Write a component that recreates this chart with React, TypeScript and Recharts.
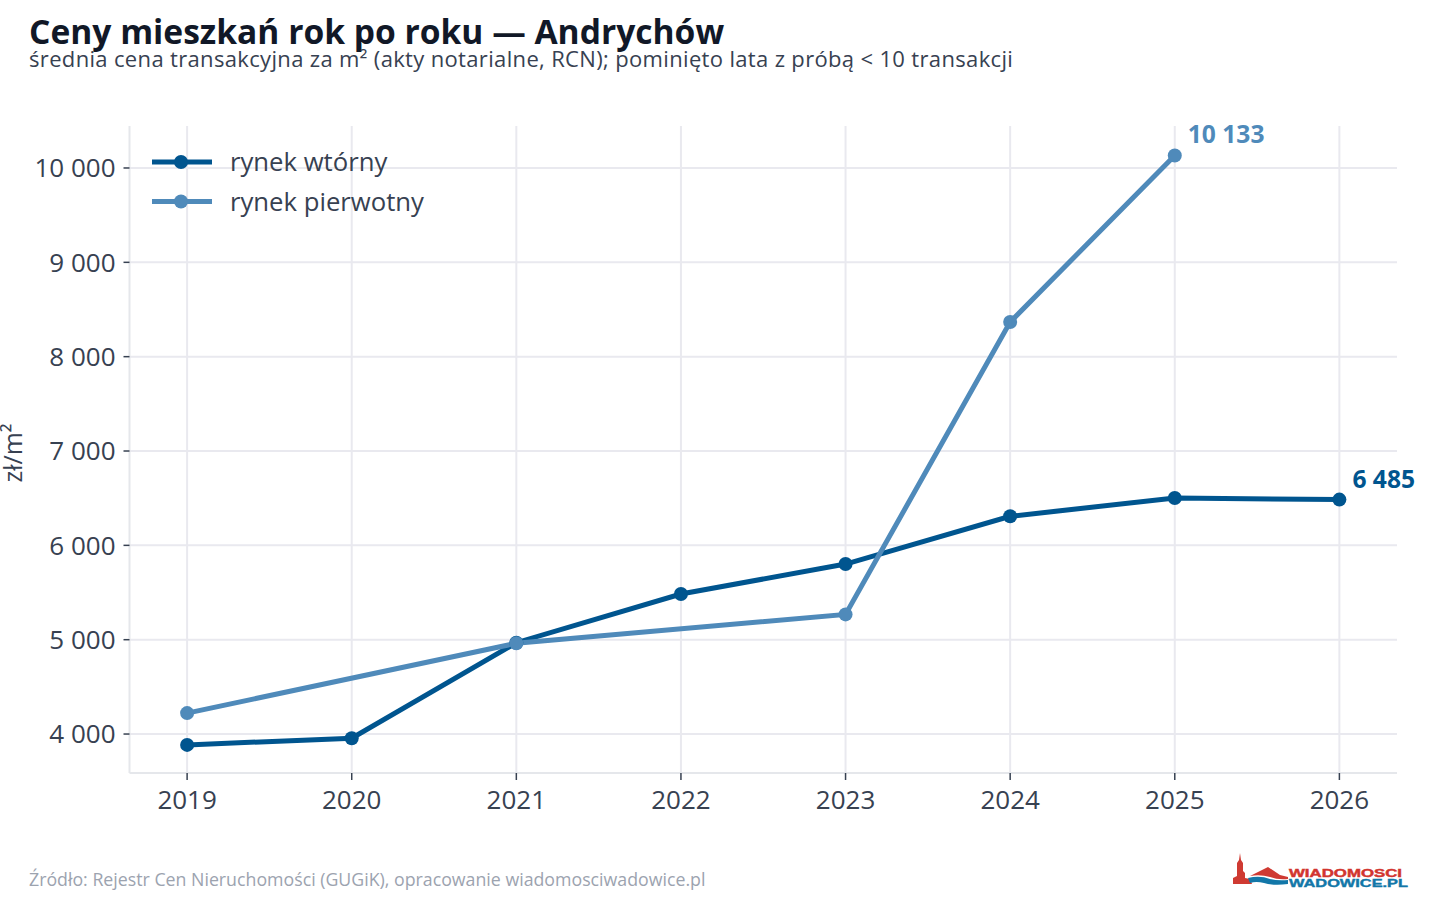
import {
  LineChart,
  Line,
  XAxis,
  YAxis,
  CartesianGrid,
  Legend,
} from 'recharts';

// ── Data ───────────────────────────────────────────

const years = [2019, 2020, 2021, 2022, 2023, 2024, 2025, 2026];
const secondaryPrices = [3885, 3955, 4968, 5484, 5802, 6308, 6502, 6485];
const primaryPrices = [4222, null, 4962, null, 5268, 8367, 10133, null];
const priceTicks = [4000, 5000, 6000, 7000, 8000, 9000, 10000];

const SECONDARY_COLOR = '#00558f';
const PRIMARY_COLOR = '#4f8aba';
const FONT = '"Open Sans", "Noto Sans", sans-serif';

const rows = years.map((year, i) => ({
  year,
  secondary: secondaryPrices[i],
  primary: primaryPrices[i],
}));

const formatPrice = (v: number) => String(v).replace(/\B(?=(\d{3})+$)/g, '\u00a0');

// ── Labels and legend ──────────────────────────────

function endLabel(lastIndex: number, color: string) {
  return ({ x, y, index, value }: any) => {
    if (index !== lastIndex) return null;
    return (
      <text x={x + 13} y={y - 12} fill={color} fontSize={24.6} fontWeight={700} fontFamily={FONT}>
        {formatPrice(value)}
      </text>
    );
  };
}

function ChartLegend() {
  const items = [
    { name: 'rynek wtórny', color: SECONDARY_COLOR },
    { name: 'rynek pierwotny', color: PRIMARY_COLOR },
  ];
  return (
    <svg width={300} height={90} style={{ display: 'block' }}>
      {items.map((item, i) => (
        <g key={item.name} transform={`translate(0, ${17 + i * 39.5})`}>
          <line x1={1} x2={61} y1={0} y2={0} stroke={item.color} strokeWidth={5} />
          <circle cx={30} cy={0} r={7} fill={item.color} />
          <text x={79} y={9} fontSize={25.7} fill="#374151" fontFamily={FONT}>
            {item.name}
          </text>
        </g>
      ))}
    </svg>
  );
}

function Logo() {
  return (
    <svg
      width={180}
      height={40}
      viewBox="0 0 180 40"
      style={{ position: 'absolute', left: 1230, top: 850 }}
    >
      <path d="M10 3 L11 10 L13 13 L13 21 L15 23 L15 28 L20 29 L22 34 L3 34 L3 28 L7 26 L7 13 L9 10 Z" fill="#cf3a32" />
      <path d="M20 26 L38 17 L50 25 L58 27 L58 29 Q48 30 40 27 Q30 24 20 26 Z" fill="#cf3a32" />
      <path d="M18 28 Q30 25 40 29 Q48 31 58 30 L58 34 Q44 36 34 33 Q26 31 20 33 Z" fill="#1277a8" />
      <text x={59} y={27} fontSize={10.5} fontWeight={900} fill="#d2352f" fontFamily="Liberation Sans" textLength={113} lengthAdjust="spacingAndGlyphs" stroke="#d2352f" strokeWidth={0.4}>
        WIADOMOSCI
      </text>
      <text x={59} y={36.5} fontSize={11.5} fontWeight={900} fill="#1277a8" fontFamily="Liberation Sans" textLength={119} lengthAdjust="spacingAndGlyphs" stroke="#1277a8" strokeWidth={0.4}>
        WADOWICE.PL
      </text>
    </svg>
  );
}

// ── Component ──────────────────────────────────────

export default function App() {
  return (
    <div
      style={{
        position: 'absolute',
        left: 0,
        top: 0,
        width: 1440,
        height: 900,
        background: '#fff',
        overflow: 'hidden',
        fontFamily: FONT,
      }}
    >
      <div style={{ position: 'absolute', left: 29, top: 11, fontSize: 33.6, lineHeight: '40px', fontWeight: 700, color: '#111827', whiteSpace: 'nowrap' }}>
        Ceny mieszkań rok po roku — Andrychów
      </div>
      <div style={{ position: 'absolute', left: 29, top: 43, fontSize: 22, letterSpacing: 0.34, lineHeight: '30px', color: '#374151', whiteSpace: 'nowrap' }}>
        średnia cena transakcyjna za m² (akty notarialne, RCN); pominięto lata z próbą &lt; 10 transakcji
      </div>

      <LineChart
        width={1440}
        height={900}
        data={rows}
        margin={{ top: 126, right: 43, bottom: 87, left: 29.5 }}
      >
        <CartesianGrid stroke="#e9e9ef" strokeWidth={2} syncWithTicks />
        <XAxis
          dataKey="year"
          type="number"
          domain={[2018.65, 2026.35]}
          ticks={years}
          allowDecimals={false}
          height={40}
          tickSize={7}
          tickMargin={11}
          interval={0}
          tickFormatter={(v: number) => String(v)}
          axisLine={{ stroke: '#e5e7eb', strokeWidth: 2 }}
          tickLine={{ stroke: '#374151', strokeWidth: 1.5 }}
          tick={{ fontSize: 26, fill: '#374151', fontFamily: FONT }}
        />
        <YAxis
          type="number"
          domain={[3587, 10445]}
          ticks={priceTicks}
          width={100}
          tickSize={6}
          tickMargin={8}
          interval={0}
          tickFormatter={formatPrice}
          axisLine={{ stroke: '#e5e7eb', strokeWidth: 2 }}
          tickLine={{ stroke: '#374151', strokeWidth: 1.5 }}
          tick={{ fontSize: 26, fill: '#374151', fontFamily: FONT }}
          allowDataOverflow
          label={{
            value: 'zł/m²',
            angle: -90,
            position: 'insideLeft',
            dx: -21,
            dy: 33,
            fontSize: 25,
            fill: '#374151',
            fontFamily: FONT,
          }}
        />
        <Legend
          content={<ChartLegend />}
          layout="horizontal"
          align="center"
          verticalAlign="middle"
          wrapperStyle={{ left: 151, top: 145, width: 300 }}
        />
        <Line
          dataKey="secondary"
          name="rynek wtórny"
          stroke={SECONDARY_COLOR}
          strokeWidth={5}
          dot={{ r: 7, fill: SECONDARY_COLOR, stroke: SECONDARY_COLOR, strokeWidth: 0 }}
          type="linear"
          label={endLabel(7, SECONDARY_COLOR)}
          isAnimationActive={false}
        />
        <Line
          dataKey="primary"
          name="rynek pierwotny"
          stroke={PRIMARY_COLOR}
          strokeWidth={5}
          dot={{ r: 7, fill: PRIMARY_COLOR, stroke: PRIMARY_COLOR, strokeWidth: 0 }}
          type="linear"
          connectNulls
          label={endLabel(6, PRIMARY_COLOR)}
          isAnimationActive={false}
        />
      </LineChart>

      <div style={{ position: 'absolute', left: 29, top: 866, fontSize: 17.75, lineHeight: '26px', color: '#9ca3af', whiteSpace: 'nowrap' }}>
        Źródło: Rejestr Cen Nieruchomości (GUGiK), opracowanie wiadomosciwadowice.pl
      </div>
      <Logo />
    </div>
  );
}
